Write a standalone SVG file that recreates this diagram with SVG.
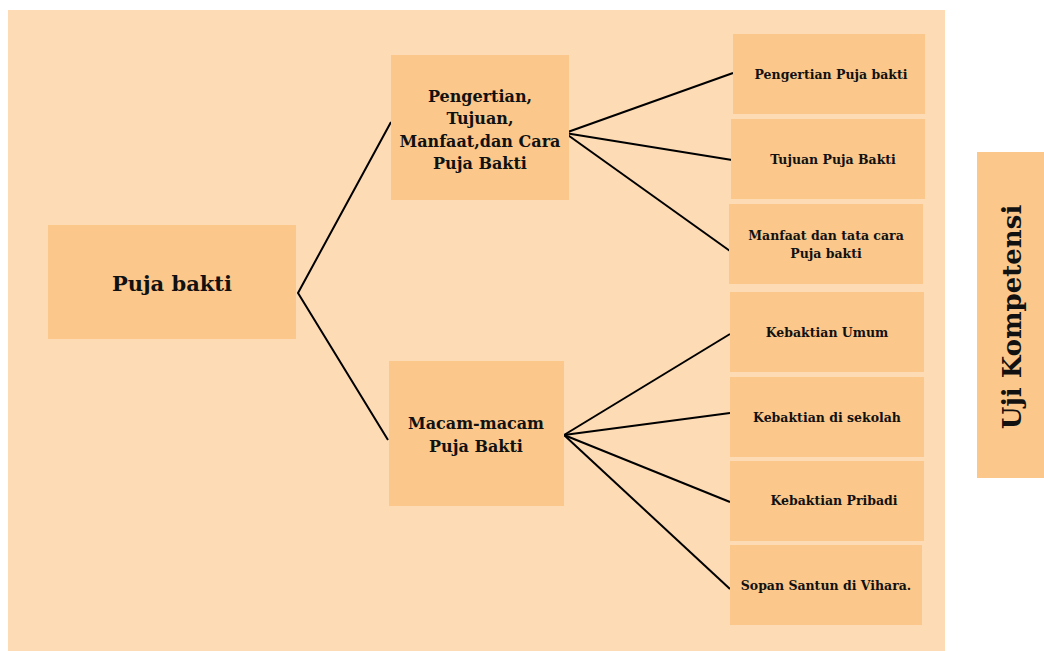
<svg xmlns="http://www.w3.org/2000/svg" width="1044" height="651" viewBox="0 0 1044 651">
<style>
.box{fill:#FBC78B}
.t{font-family:"DejaVu Serif","Liberation Serif",serif;font-weight:bold;fill:#111;text-anchor:middle}
.s{font-size:12.5px}
.m{font-size:16px}
.c{stroke:#000;stroke-width:2;fill:none}
</style>
<rect x="0" y="0" width="1044" height="651" fill="#FFFFFF"/>
<rect x="8" y="10" width="937" height="641" fill="#FDDBB4"/>
<g id="connectors">
<polyline class="c" points="391,122 298,293 388,440"/>
<line class="c" x1="565" y1="133" x2="733" y2="73"/>
<line class="c" x1="565" y1="133" x2="732" y2="160"/>
<line class="c" x1="565" y1="133" x2="730" y2="251"/>
<line class="c" x1="564" y1="435" x2="730" y2="334"/>
<line class="c" x1="564" y1="435" x2="730" y2="413"/>
<line class="c" x1="564" y1="435" x2="730" y2="502"/>
<line class="c" x1="564" y1="435" x2="730" y2="589"/>
</g>
<g id="n-root"><rect class="box" x="48" y="225" width="248" height="114"/><text class="t" x="172" y="291" font-size="21">Puja bakti</text></g>
<g id="n-pengertian"><rect class="box" x="391" y="55" width="178" height="145"/>
<text class="t m" x="480" y="102">Pengertian,</text>
<text class="t m" x="480" y="124">Tujuan,</text>
<text class="t m" x="480" y="147">Manfaat,dan Cara</text>
<text class="t m" x="480" y="169">Puja Bakti</text></g>
<g id="n-macam"><rect class="box" x="389" y="361" width="175" height="145"/>
<text class="t m" x="476" y="429">Macam-macam</text>
<text class="t m" x="476" y="452">Puja Bakti</text></g>
<g id="n-p1"><rect class="box" x="733" y="34" width="192" height="80"/><text class="t s" x="831" y="79">Pengertian Puja bakti</text></g>
<g id="n-p2"><rect class="box" x="731" y="119" width="194" height="80"/><text class="t s" x="833" y="164">Tujuan Puja Bakti</text></g>
<g id="n-p3"><rect class="box" x="729" y="204" width="194" height="80"/><text class="t s" x="826" y="240">Manfaat dan tata cara</text><text class="t s" x="826" y="258">Puja bakti</text></g>
<g id="n-m1"><rect class="box" x="730" y="292" width="194" height="80"/><text class="t s" x="827" y="337">Kebaktian Umum</text></g>
<g id="n-m2"><rect class="box" x="730" y="377" width="194" height="80"/><text class="t s" x="827" y="422">Kebaktian di sekolah</text></g>
<g id="n-m3"><rect class="box" x="730" y="461" width="194" height="80"/><text class="t s" x="834" y="505">Kebaktian Pribadi</text></g>
<g id="n-m4"><rect class="box" x="730" y="545" width="192" height="80"/><text class="t s" x="826" y="590">Sopan Santun di Vihara.</text></g>
<g id="n-uji"><rect class="box" x="977" y="152" width="67" height="326"/><text class="t" x="0" y="0" font-size="26" transform="translate(1021,317) rotate(-90)">Uji Kompetensi</text></g>
</svg>
